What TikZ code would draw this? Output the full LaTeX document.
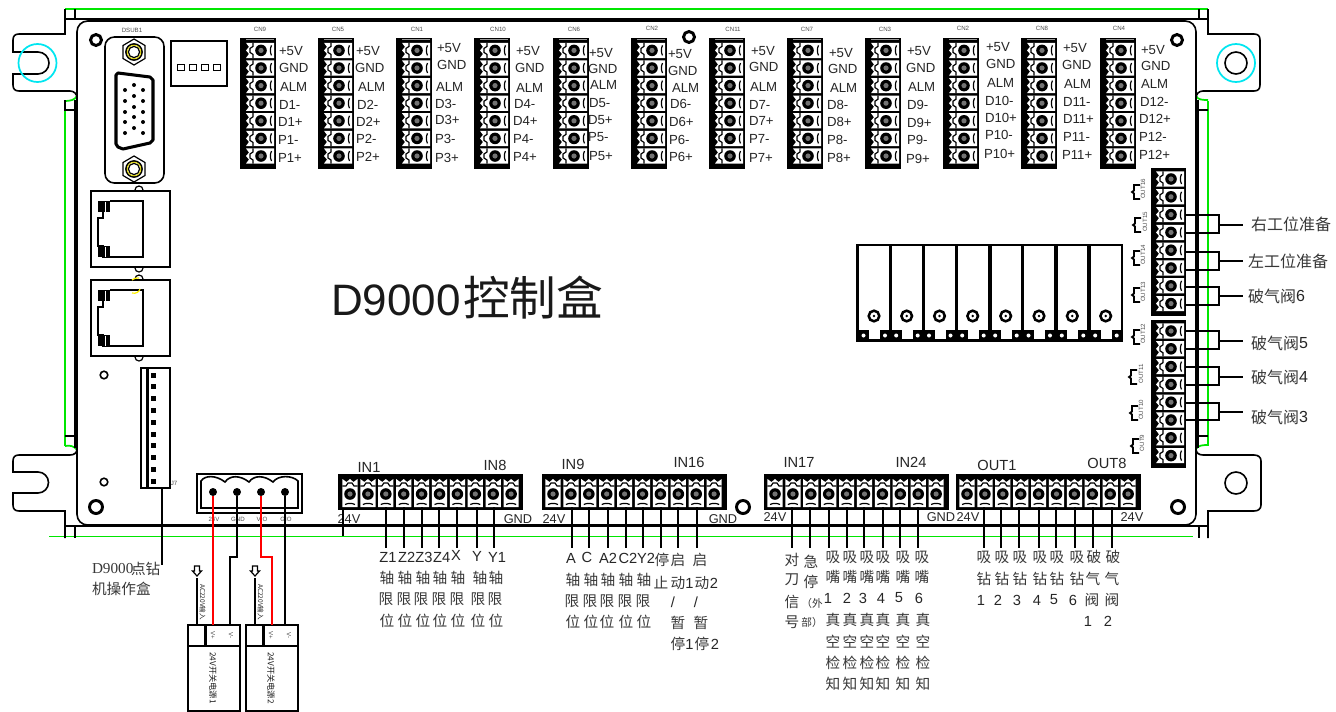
\documentclass[tikz,border=0pt]{standalone}
\usepackage{fontspec}
\setmainfont{Liberation Sans}
\newfontfamily\cjk{Noto Sans CJK SC}
\newfontfamily\tms{Liberation Serif}
\definecolor{zhgray}{gray}{0.22}
\definecolor{mygreen}{RGB}{0,230,0}
\definecolor{mycyan}{RGB}{0,230,240}
\tikzset{
  every node/.style={inner sep=0pt,outer sep=0pt},
  frameline/.style={line width=1.6pt,black},
  thinframe/.style={line width=1.2pt,black},
  greenline/.style={line width=1.3pt,mygreen},
  wire/.style={line width=1.3pt,black},
  redwire/.style={line width=1.5pt,red},
  cnlabel/.style={anchor=west,font=\fontsize{9.9pt}{10pt}\selectfont,text=black!85},
  latlabel/.style={font=\fontsize{11pt}{11pt}\selectfont,text=black!85},
  zh/.style={font=\fontsize{11pt}{11pt}\selectfont\cjk,text=zhgray},
  inlabel/.style={font=\fontsize{11pt}{11pt}\selectfont,text=black!85},
  pwrlabel/.style={font=\fontsize{9.6pt}{10pt}\selectfont,text=black!85},
  tiny/.style={font=\fontsize{4.6pt}{5pt}\selectfont,text=black!70},
  termcell/.pic={
    \fill[white] (-15,-7.6)--(13,-7.6)--(13,7.6)--(-15,7.6)--(-12,3.5)--(-15,0)--(-12,-3.5)--cycle;
    \draw[line width=0.9pt,black] (-8,-7.6)--(-8,-4)--(-11,-2)--(-11,2)--(-8,4)--(-8,7.6);
    \draw[line width=0.9pt,black] (10.5,-5) .. controls (9,-2) and (9,2) .. (10.5,5);
    \fill[black] (0,0) circle[radius=5.8];
    \fill[black!55] (0,0) circle[radius=2.6];
  }
}
\newcommand\cnblock[2]{% left x, top y : seven-way strip
  \fill[black] (#1,#2) rectangle ++(36,131);
  \foreach \k in {0,...,6}{\pic at ({#1+21},{#2+12.4+17.6*\k}) {termcell};}
  \fill[black!40] ({#1+6},{#2+1}) rectangle ++(28,1.4);
}
\newcommand\sideblock[2]{% left x, first screw y : eight-way strip
  \fill[black] (#1,{#2-11}) rectangle ++(35,148);
  \foreach \k in {0,...,7}{\pic at ({#1+20},{#2+17.8*\k}) {termcell};}
}
\newcommand\inblock[2]{% left x, first screw x : ten-way strip
  \fill[black] (#1,474) rectangle ++(185,36);
  \foreach \k in {0,...,9}{\pic[rotate=-90] at ({#2+17.9*\k},494) {termcell};}
}
\newcommand\cnlabels[3]{%
  \foreach \xx/\yy [count=\i] in {#3}{
    \node[cnlabel] (#1l\i) at (\xx,\yy) {\ifcase\i\or +5V\or GND\or ALM\or D#2-\or D#2+\or P#2-\or P#2+\fi};
  }}
\newcommand\hexnut[2]{%
  \draw[line width=0.9pt] (#1,#2-13)--(#1+11,#2-6.5)--(#1+11,#2+6.5)--(#1,#2+13)--(#1-11,#2+6.5)--(#1-11,#2-6.5)--cycle;
  \draw[line width=1.3pt] (#1,#2) circle[radius=8];
  \draw[line width=0.7pt,yellow!90!black] (#1,#2) circle[radius=6.8];
  \draw[line width=0.9pt] (#1,#2) circle[radius=5.6];
}
\newcommand\ethport[1]{%
  \draw[line width=1.6pt] (91,#1) rectangle (170,#1+76);
  \draw[line width=1.2pt] (110,#1+10)--(143,#1+10)--(143,#1+66)--(103,#1+66)--(103,#1+55)--(98,#1+55)--(98,#1+47)--(98,#1+27)--(103,#1+27)--(103,#1+20);
  \fill[black] (98,#1+10) rectangle (110,#1+21);
  \fill[black] (98,#1+55) rectangle (110,#1+66);
  \fill[white] (104.5,#1+10.5) rectangle (105.5,#1+20.5);
  \fill[white] (104.5,#1+55.5) rectangle (105.5,#1+65.5);
  \draw[line width=0.9pt] (135,#1-1) arc[start angle=180,end angle=360,radius=4];
  \draw[line width=0.9pt] (135,#1+77) arc[start angle=180,end angle=0,radius=4];
}
\newcommand\outtag[4]{% bracket x, bracket y, text x, label
  \draw[line width=1.3pt] (#1+8,#2-7)--(#1+2,#2-7)--(#1+2,#2-1.5)--(#1,#2)--(#1+2,#2+1.5)--(#1+2,#2+7)--(#1+8,#2+7);
  \node[tiny,rotate=90] at (#3,#2-3) {#4};
}
\begin{document}
\begin{tikzpicture}[x=0.75pt,y=-0.75pt]
\useasboundingbox (0,0) rectangle (1336,711);
\fill[white] (0,0) rectangle (1336,711);

% green outline
\draw[greenline] (65,9)--(1208,9);
\draw[greenline] (65,446) .. controls (70,445) and (74,446) .. (77,450);
\draw[greenline] (65,100)--(65,446);
\draw[greenline] (1208,101)--(1208,445) .. controls (1204,445) and (1198,445) .. (1196,449);
\draw[greenline] (65,101) .. controls (70,101) and (75,100) .. (77,96);
\draw[greenline] (1208,100) .. controls (1203,100) and (1198,100) .. (1196,96);
\draw[greenline] (49,536.5)--(1193,536.5);

% frame, ears
\draw[frameline] (65,19)--(1208,19);
\draw[thinframe] (65,9)--(65,34)--(19,34) .. controls (15,34) and (13,36) .. (13,40)--(13,52)--(38,52) arc[start angle=-90,end angle=90,radius=11];
\draw[thinframe] (38,74)--(13,74)--(13,85) .. controls (13,89) and (15,91) .. (19,91)--(70,91) .. controls (74,91) and (77,94) .. (77,98);
\draw[thinframe] (75,9)--(75,19);
\draw[thinframe] (1199,9)--(1199,19);
\draw[thinframe] (1208,9)--(1208,34)--(1254,34) .. controls (1258,34) and (1260,36) .. (1260,40)--(1260,85) .. controls (1260,89) and (1258,91) .. (1254,91)--(1203,91) .. controls (1199,91) and (1196,94) .. (1196,98);
\draw[line width=1.2pt] (1236,63) circle[radius=11];
\draw[line width=1.3pt,mycyan] (1236,63) circle[radius=19];
\draw[line width=1.3pt,mycyan] (37.5,63) circle[radius=19];

\draw[line width=0.8pt] (65,100)--(65,110)--(75,110);
\draw[line width=0.8pt] (1196,110)--(1208,110);
\draw[line width=0.8pt] (65,436)--(75,436);
\draw[line width=0.8pt] (1196,436)--(1208,436);
\draw[frameline] (75,100)--(75,448);
\draw[frameline] (1198,100)--(1198,448);

\draw[thinframe,rounded corners=8pt] (77,21) rectangle (1196,525);

\draw[thinframe] (77,449) .. controls (77,453) and (74,455) .. (70,455)--(19,455) .. controls (15,455) and (13,457) .. (13,461)--(13,472)--(38,472);
\draw[thinframe] (38,472) arc[start angle=-90,end angle=90,radius=10.5];
\draw[thinframe] (38,493)--(13,493)--(13,505) .. controls (13,509) and (15,511) .. (19,511)--(65,511)--(65,538);
\draw[thinframe] (75,526)--(75,538);
\draw[thinframe] (1196,449) .. controls (1196,453) and (1199,455) .. (1203,455)--(1254,455) .. controls (1258,455) and (1261,457) .. (1261,461)--(1261,505) .. controls (1261,509) and (1258,511) .. (1254,511)--(1208,511)--(1208,538);
\draw[thinframe] (1199,526)--(1199,538);
\draw[line width=1.2pt] (1236,483) circle[radius=11];
\draw[frameline] (65,526)--(1208,526);

% mounting holes
\foreach \hx/\hy/\hr in {96/40/5.5,1177/40/5.5,689/37/5.5,96/507/6.5,743/507/6.5,1178/507/6.5}{
  \draw[line width=2.2pt] (\hx,\hy) circle[radius=\hr];
}
\foreach \hy in {375,482}{\draw[line width=1.2pt] (104,\hy) circle[radius=3.8];}

% DSUB
\node[tiny] (dsubt) at (132,30) {DSUB1};
\draw[line width=1.2pt,rounded corners=7pt] (105,37) rectangle (164,183);
\hexnut{134}{52}
\hexnut{134}{169}
\draw[line width=2.3pt,line join=round] (118,73)--(150,77)--(153,80)--(153,140)--(150,143)--(123,149)--(118,147)--(116,144)--(116,75)--cycle;
\foreach \py in {90,101,112,122,133}{
  \fill (125,\py) circle[radius=2];
  \fill (143,\py) circle[radius=2];
}
\foreach \py in {85,96,107,117,128}{\fill (134,\py) circle[radius=2];}

% DIP switch
\draw[line width=1.4pt] (171,41) rectangle (227,86);
\foreach \sx in {181,193,205,217}{
  \draw[line width=1.3pt] (\sx-3.5,64.5) rectangle (\sx+3.5,70.5);
}

% RJ45
\ethport{191}
\ethport{280}
\draw[line width=0.9pt,yellow] (132,280) .. controls (134,278) and (136,278) .. (139,278);
\draw[line width=0.9pt,yellow] (132,293) .. controls (136,294) and (139,292) .. (140,289);

% J7
\draw[line width=1.2pt] (141,368) rectangle (170,488);
\draw[line width=1.9pt] (147.5,368)--(147.5,488);
\foreach \jy in {375,386.8,398.6,410.4,422.2,434,445.8,457.6,469.4,481.2}{
  \fill (151,\jy-2.5) rectangle (155.5,\jy+2.5);
}
\node[tiny] (j7t) at (174,483) {J7};
\coordinate (j7pin) at (162,488);
\coordinate (j7end) at (162,565);
\draw[line width=1.5pt] (j7pin)--(j7end);
\node[anchor=west,font=\fontsize{11.4pt}{12pt}\selectfont\tms,text=zhgray] (d9a) at (92,569) {D9000};
\node[anchor=west,font=\fontsize{11pt}{12pt}\selectfont\cjk,text=zhgray] (d9b) at (131,569) {点钻};
\node[anchor=west,font=\fontsize{11pt}{12pt}\selectfont\cjk,text=zhgray] (d9c) at (92,589) {机操作盒};

% Title
\node[anchor=west,font=\fontsize{33pt}{34pt}\selectfont,text=black!90] (titlea) at (331,300) {D9000};
\node[anchor=west,font=\fontsize{35pt}{36pt}\selectfont\cjk,text=black!90] (titleb) at (463,298) {控制盒};

% CN strips
\foreach \X in {240,318,396,474,553,631,709,787,865,943,1021,1100}{\cnblock{\X}{38}}
\foreach \t/\xx/\yy in {CN9/260/29,CN5/338/29.5,CN1/417/29.5,CN10/498/29.5,CN6/574/29,CN2/652/28.5,CN11/733/29,CN7/807/29,CN3/885/29,CN2/963/28.5,CN8/1042/28.5,CN4/1119/28.5}{
  \node[tiny] at (\xx,\yy) {\t};
}
\cnlabels{a}{1}{279/51,279/68,280/87,279/105,278/122,278/140,278/158}
\cnlabels{b}{2}{356/51,355/68,358/87,357/105,356/122,356/139,356/157}
\cnlabels{c}{3}{437/48,437/65,436/87,435/104,435/120,435/139,435/158}
\cnlabels{d}{4}{516/51,515/68,516/88,514/104,513/121,513/139,513/157}
\cnlabels{e}{5}{589/53,588/69,590/85,589/103,588/120,588/137,589/156}
\cnlabels{f}{6}{668/54,668/71,672/88,670/104,669/122,669/140,669/157}
\cnlabels{g}{7}{751/51,749/67,750/87,749/105,749/121,749/139,749/158}
\cnlabels{h}{8}{829/53,828/69,830/88,827/105,827/122,827/140,827/158}
\cnlabels{i}{9}{907/51,906/68,908/87,907/105,907/123,907/140,906/159}
\cnlabels{j}{10}{986/47,986/64,987/83,985/101,985/118,985/135,984/154}
\cnlabels{k}{11}{1063/48,1062/65,1064/84,1063/102,1063/119,1063/137,1062/155}
\cnlabels{l}{12}{1141/50,1141/66,1141/84,1140/102,1139/119,1139/137,1139/155}

% relay bank
\draw[line width=1.9pt] (857.5,245) rectangle (1122,340.5);
\foreach \rx in {890.7,923.5,956.7,990,1022.7,1056,1089}{\draw[line width=2.6pt] (\rx,245)--(\rx,340.5);}
\foreach \rx in {874,906.7,939.5,972.7,1005.7,1039,1072.3,1105.7}{
  \draw[line width=1.9pt] (\rx,316) circle[radius=5.3];
  \fill (\rx,316) circle[radius=1.4];
  \fill (\rx-16,330) rectangle (\rx-5,340.5);
  \fill (\rx+6,330) rectangle (\rx+16.5,340.5);
  \fill[white] (\rx-10.5,335.5) circle[radius=2];
  \fill[white] (\rx+11,335.5) circle[radius=2];
}

% side strips
\sideblock{1151}{179}
\sideblock{1151}{331}
\outtag{1132}{192}{1143}{OUT16}
\outtag{1133}{225}{1145}{OUT15}
\outtag{1132}{258}{1143}{OUT14}
\outtag{1132}{295}{1143}{OUT13}
\outtag{1132}{337}{1143}{OUT12}
\outtag{1129}{377}{1141}{OUT11}
\outtag{1130}{413}{1141}{OUT10}
\outtag{1131}{446}{1142}{OUT9}

\foreach \ya/\yb/\ym/\lx/\ly/\t in {215/233/225/1251/224/右工位准备,252/270/261/1248/261/左工位准备}{
  \coordinate (pa\ya) at (1186,\ya);
  \coordinate (pb\ya) at (1186,\yb);
  \coordinate (pc\ya) at (1243,\ym);
  \draw[wire] (pa\ya)-|(1219,\yb)--(pb\ya);
  \draw[wire] (1219,\ym)--(pc\ya);
  \node[anchor=west,font=\fontsize{12pt}{12pt}\selectfont\cjk,text=zhgray] at (\lx,\ly) {\t};
}
\foreach \ya/\yb/\ym/\lx/\ly/\t/\n in {287/305/296/1248/296/破气阀/6,331/349/341/1251/343/破气阀/5,367/385/377/1251/377/破气阀/4,403/420/412/1251/417/破气阀/3}{
  \coordinate (pa\ya) at (1186,\ya);
  \coordinate (pb\ya) at (1186,\yb);
  \coordinate (pc\ya) at (1243,\ym);
  \draw[wire] (pa\ya)-|(1219,\yb)--(pb\ya);
  \draw[wire] (1219,\ym)--(pc\ya);
  \node[anchor=west,font=\fontsize{12pt}{12pt}\selectfont\cjk,text=zhgray] (vl\n) at (\lx,\ly) {\t};
  \node[anchor=west,font=\fontsize{12pt}{12pt}\selectfont,text=black!85] at (vl\n.east) {\n};
}

% power connector
\draw[line width=1.6pt] (197,474) rectangle (302,513);
\draw[line width=1.2pt] (201,508)--(201,481) .. controls (205,475) and (216,475) .. (225,482) .. controls (230,475) and (240,475) .. (249,482) .. controls (254,475) and (264,475) .. (273,482) .. controls (278,475) and (292,475) .. (298,481)--(298,508)--cycle;
\foreach \nm/\px/\t in {pa/213/24V,pb/237/GND,pc/261/VIO,pd/285/GIO}{
  \node[fill=black,circle,minimum size=6pt] (\nm) at (\px,492) {};
  \node[tiny] at (\px+1,519.5) {\t};
}

% power supplies
\foreach \X/\n in {188/1,246/2}{
  \draw[line width=1.6pt] (\X,625) rectangle (\X+52,711);
  \draw[line width=1.6pt] (\X,646)--(\X+52,646);
  \draw[line width=1.6pt] (\X+17.5,625)--(\X+17.5,646);
  \node[tiny,rotate=-90] at (\X+25,635.5) {V+};
  \node[tiny,rotate=-90] at (\X+43,635.5) {V-};
  \node[rotate=-90,font=\fontsize{6.2pt}{6pt}\selectfont\cjk,text=black!90] (ps\n) at (\X+25,678) {24V开关电源\n};
  \coordinate (ac\n) at (\X+9,578);
  \coordinate (acb\n) at (\X+9,625);
  \draw[line width=1.5pt] (ac\n)--(acb\n);
  \node[rotate=-90,font=\fontsize{4.9pt}{5pt}\selectfont\cjk,text=black!85] at (\X+14.5,602) {AC220V输入};
  \draw[line width=0.9pt] (\X+6.5,571)--(\X+6.5,566)--(\X+11.5,566)--(\X+11.5,571)--(\X+13.5,571)--(\X+9,576)--(\X+4.5,571)--cycle;
}
\coordinate (v1p) at (213,625);
\coordinate (v1n) at (230,625);
\coordinate (v2p) at (272,625);
\coordinate (v2n) at (285,625);
\draw[redwire] (pa)--(v1p);
\draw[line width=1.5pt] (pb)--(237,557)--(230,557)--(v1n);
\draw[redwire] (pc)--(261,557)--(272,557)--(v2p);
\draw[line width=1.5pt] (pd)--(v2n);

% horizontal strips
\inblock{338}{350}
\inblock{542}{553}
\inblock{764}{775}
\inblock{956}{967}
\foreach \t/\xx/\yy in {IN1/369/467,IN8/495/465,IN9/573/464,IN16/689/462,IN17/799/462,IN24/911/462,OUT1/997/465,OUT8/1107/463}{
  \node[inlabel] at (\xx,\yy) {\t};
}
\foreach \t/\xx/\yy in {24V/349/519,GND/518/519,24V/554/519,GND/723/519,24V/775/517,GND/941/517,24V/968/517,24V/1132/517}{
  \node[pwrlabel] at (\xx,\yy) {\t};
}
\coordinate (com1) at (343,510);
\coordinate (com1e) at (343,536);
\draw[wire] (com1)--(com1e);

% wires to the labels
\foreach \wx [count=\i] in {386,404,421.7,439,456.7,477,494,571.7,589,608,626,642.7,661,678,697,792,810,829,847,864,883,900,918,984,1001,1019,1039,1056,1075,1093,1112}{
  \coordinate (ws\i) at (\wx,507);
  \coordinate (we\i) at (\wx,548);
  \draw[wire] (ws\i)--(we\i);
}

% Latin labels below the connectors
\foreach \t/\xx/\yy in {Z1/388/557,Z2/406.7/557,Z3/424/557,Z4/441.7/557,X/456/555,Y/477/556,Y1/497/557,
  A/571/558,C/587/557,A2/608/558,C2/628/558,Y2/646/558,1/689.5/583,2/714/583,1/689.5/644,2/715/644,
  1/828/598,2/847/598,3/863/598,4/881/598,5/899/598,6/919/598,
  1/981/600,2/998/600,3/1017/600,4/1037/600,5/1054/600,6/1073/600,1/1088/621,2/1108/621}{
  \node[latlabel] at (\xx,\yy) {\t};
}
\node[latlabel] (slasha) at (673,602) {/};
\node[latlabel] (slashb) at (696,602) {/};
% Chinese labels below the connectors
\foreach \t/\xx/\yy in {
  轴/387/578,轴/405/578,轴/423/578,轴/440/578,轴/458/578,轴/480/578,轴/496/578,
  限/386/599,限/404/599,限/421/599,限/439/599,限/457/599,限/478/599,限/495/599,
  位/387/621,位/405/621,位/423/621,位/440/621,位/458/621,位/478/621,位/496/621,
  轴/573/580,轴/591/580,轴/608/580,轴/626/580,轴/644/580,
  限/572/601,限/590/601,限/607/601,限/625/601,限/643/601,
  位/573/622,位/591/622,位/607/622,位/626/622,位/644/622,
  停/662/560,启/678/560,启/700/560,止/661/583,动/678/583,动/702/583,
  暂/678/623,暂/701/623,停/678/644,停/702/644,
  对/792/560,刀/792/580,信/792/602,号/792/622,急/811/562,停/811/582,
  吸/833/557,吸/850/557,吸/867/557,吸/883/557,吸/903/557,吸/922/557,
  嘴/833/577,嘴/850/577,嘴/867/577,嘴/883/577,嘴/903/577,嘴/922/577,
  真/833/620,真/850/620,真/867/620,真/883/620,真/903/620,真/923/620,
  空/833/642,空/850/642,空/867/642,空/883/642,空/903/642,空/923/642,
  检/833/663,检/850/663,检/867/663,检/883/663,检/903/663,检/923/663,
  知/833/684,知/850/684,知/867/684,知/883/684,知/903/684,知/923/684,
  吸/984/557,吸/1002/557,吸/1020/557,吸/1040/557,吸/1057/557,吸/1077/557,破/1094/557,破/1113/557,
  钻/984/579,钻/1002/579,钻/1020/579,钻/1040/579,钻/1057/579,钻/1077/579,气/1093/579,气/1112/579,
  阀/1092/600,阀/1112/600}{
  \node[zh] at (\xx,\yy) {\t};
}
\node[font=\fontsize{8pt}{8pt}\selectfont\cjk,text=zhgray] (waibu1) at (812,603) {（外};
\node[font=\fontsize{8pt}{8pt}\selectfont\cjk,text=zhgray] (waibu2) at (812,622) {部）};
\end{tikzpicture}
\end{document}
